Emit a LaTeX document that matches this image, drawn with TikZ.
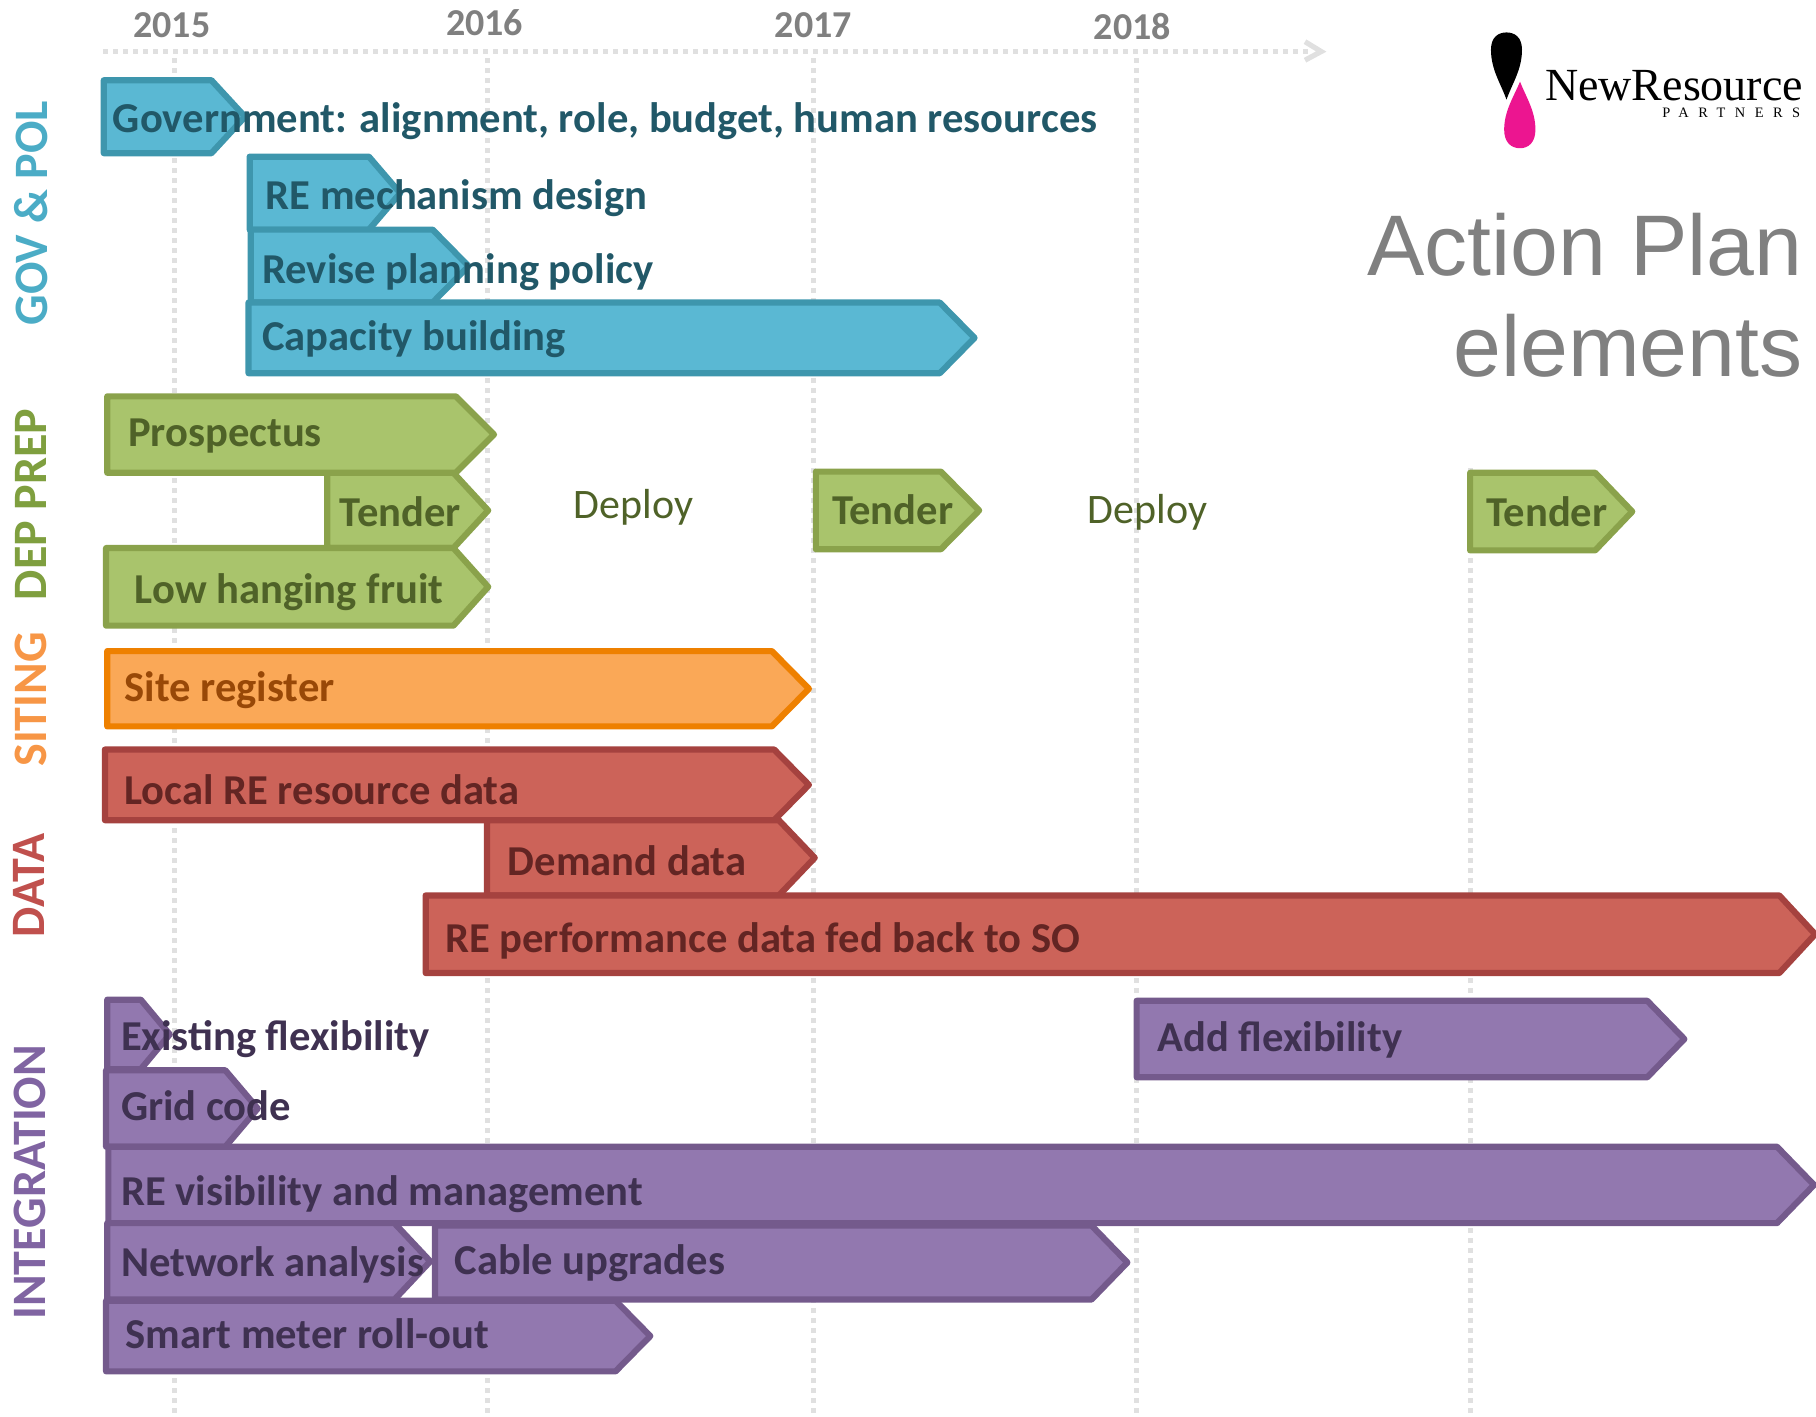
\documentclass[tikz,border=0pt]{standalone}
\usepackage{fontspec}
\setmainfont{Carlito}
\newfontfamily\titlefont{Liberation Sans}
\newfontfamily\logofont{Liberation Serif}
\newfontfamily\logospaced[LetterSpace=66]{Liberation Serif}
\definecolor{bluefill}{HTML}{5AB8D3}\definecolor{bluedraw}{HTML}{3E96AD}\definecolor{bluetext}{HTML}{215868}\definecolor{blueside}{HTML}{4BACC6}
\definecolor{greenfill}{HTML}{A9C46C}\definecolor{greendraw}{HTML}{8AA24B}\definecolor{greentext}{HTML}{4F6228}\definecolor{greenside}{HTML}{7F9F3F}
\definecolor{orangefill}{HTML}{FAA857}\definecolor{orangedraw}{HTML}{EE8000}\definecolor{orangetext}{HTML}{984807}\definecolor{orangeside}{HTML}{F79646}
\definecolor{redfill}{HTML}{CC6359}\definecolor{reddraw}{HTML}{A5423F}\definecolor{redtext}{HTML}{632523}\definecolor{redside}{HTML}{C0504D}
\definecolor{purplefill}{HTML}{9278AF}\definecolor{purpledraw}{HTML}{745A8C}\definecolor{purpletext}{HTML}{3F3151}\definecolor{purpleside}{HTML}{8064A2}
\definecolor{gridgrey}{HTML}{E0E0E0}\definecolor{headgrey}{HTML}{808080}\definecolor{logopink}{HTML}{EC1590}
\tikzset{
  bluebar/.style={fill=bluefill,draw=bluedraw},
  greenbar/.style={fill=greenfill,draw=greendraw},
  orangebar/.style={fill=orangefill,draw=orangedraw},
  redbar/.style={fill=redfill,draw=reddraw},
  purplebar/.style={fill=purplefill,draw=purpledraw},
  barlabel/.style={anchor=base west,inner sep=0pt,font=\fontsize{21.3}{24}\selectfont\bfseries},
  gridline/.style={gridgrey,line width=2.5pt,dash pattern=on 2.5pt off 2.5pt},
  year/.style={anchor=center,inner sep=0pt,text=headgrey,font=\fontsize{19}{22}\selectfont\bfseries},
  side/.style={anchor=center,inner sep=0pt,rotate=90,font=\fontsize{24}{28}\selectfont\bfseries},
  deploy/.style={anchor=center,inner sep=0pt,text=greentext,font=\fontsize{21}{24}\selectfont},
  headline/.style={anchor=base east,inner sep=0pt,text=headgrey,font=\titlefont\fontsize{43}{48}\selectfont},
}
% style, name, x0, ytop, xshoulder, xtip, ybottom, text position, text colour
\newcommand{\bararrow}[9]{%
  \path[#1,shift={(0.6,0.3)},line width=3.1pt,line join=round] (#3,#4) -- (#5,#4) -- (#6,{(#4+#7)/2}) -- (#5,#7) -- (#3,#7) -- cycle;
  \node[barlabel,text=#9,shift={(0.2,1.8)}] (#2) at (#8) {\barlabeltext};
}
\newcommand{\barlabeltext}{}
\newcommand{\plan}[2]{\renewcommand{\barlabeltext}{#2}#1}
\begin{document}
\begin{tikzpicture}[x=0.579pt,y=-0.579pt]
\useasboundingbox (0,0) rectangle (1568.3,1222.9);
% grid
\foreach \gx/\gy in {150.6/50,420.6/50,702.6/50,981.6/50,1269.6/404}{
  \draw[gridline] (\gx,\gy) -- (\gx,1223);
}
\draw[gridline] (89,44.5) -- (1132,44.5);
\draw[gridgrey,line width=2.6pt] (1127,36) -- (1141,44.5) -- (1127,52);
% years
\node[year] (y15) at (148.5,22) {2015};
\node[year] (y16) at (418.5,20) {2016};
\node[year] (y17) at (702.5,22) {2017};
\node[year] (y18) at (978,23) {2018};
% side
\node[side,text=blueside] (sgov) at (27,184) {GOV \& POL};
\node[side,text=greenside] (sdep) at (27,435.5) {DEP PREP};
\node[side,text=orangeside] (ssit) at (27,604) {SITING};
\node[side,text=redside] (sdat) at (25,764.5) {DATA};
\node[side,text=purpleside] (sint) at (25.5,1021) {INTEGRATION};
% bars
\plan{\bararrow{bluebar}{b1}{89}{69}{182}{211}{132}{97,113}{bluetext}}{Government: alignment, role, budget, human resources}
\plan{\bararrow{bluebar}{b2}{215}{135}{318}{345}{198}{229,179}{bluetext}}{RE mechanism design}
\plan{\bararrow{bluebar}{b3}{216}{198}{373}{404}{261}{226,243}{bluetext}}{Revise planning policy}
\plan{\bararrow{bluebar}{b4}{214}{261}{811}{841}{322}{226,301}{bluetext}}{Capacity building}
\plan{\bararrow{greenbar}{g2}{282}{408}{391}{421}{473}{293,453}{greentext}}{Tender}
\plan{\bararrow{greenbar}{g1}{92}{342}{393}{426}{408}{110,384}{greentext}}{Prospectus}
\plan{\bararrow{greenbar}{g3}{91}{473}{391}{421}{540}{116,519}{greentext}}{Low hanging fruit}
\plan{\bararrow{greenbar}{g4}{704}{407}{812}{845}{474}{718,451}{greentext}}{Tender}
\plan{\bararrow{greenbar}{g5}{1269}{408}{1377}{1409}{475}{1283,453}{greentext}}{Tender}
\node[deploy] (d1) at (547,438) {Deploy};
\node[deploy] (d2) at (991,442) {Deploy};
\plan{\bararrow{orangebar}{o1}{92}{562}{666}{698}{627}{107,604}{orangetext}}{Site register}
\plan{\bararrow{redbar}{r1}{90}{647}{668}{698}{708}{107,693}{redtext}}{Local RE resource data}
\plan{\bararrow{redbar}{r2}{420}{708}{672}{703}{773}{438,754}{redtext}}{Demand data}
\plan{\bararrow{redbar}{r3}{367}{773}{1536}{1567}{840}{384,821}{redtext}}{RE performance data fed back to SO}
\plan{\bararrow{purplebar}{p1}{92}{863}{121}{146}{923}{104,905}{purpletext}}{Existing flexibility}
\plan{\bararrow{purplebar}{p2}{91}{924}{194}{222}{990}{104,966}{purpletext}}{Grid code}
\plan{\bararrow{purplebar}{p3}{93}{990}{1534}{1566}{1056}{104,1039}{purpletext}}{RE visibility and management}
\plan{\bararrow{purplebar}{p5}{375}{1058}{942}{973}{1122}{392,1099}{purpletext}}{Cable upgrades}
\plan{\bararrow{purplebar}{p4}{92}{1056}{340}{371}{1122}{104,1101}{purpletext}}{Network analysis}
\plan{\bararrow{purplebar}{p6}{91}{1123}{531}{561}{1184}{108,1163}{purpletext}}{Smart meter roll-out}
\plan{\bararrow{purplebar}{p7}{981}{864}{1422}{1454}{930}{999,906}{purpletext}}{Add flexibility}
% title
\node[headline] (t1) at (1557,238) {Action Plan};
\node[headline] (t2) at (1557,325) {elements};
% logo
\fill[black] (1301,86) .. controls (1296,72) and (1287.6,60) .. (1287.6,43) .. controls (1287.6,32) and (1294,28) .. (1301,28) .. controls (1308,28) and (1314.4,32) .. (1314.4,43) .. controls (1314.4,60) and (1306,72) .. (1301,86) -- cycle;
\fill[logopink] (1312.7,70.5) .. controls (1318,84) and (1326,96) .. (1326,112) .. controls (1326,123) and (1320,128) .. (1312.7,128) .. controls (1305,128) and (1299,123) .. (1299,112) .. controls (1299,96) and (1307,84) .. (1312.7,70.5) -- cycle;
\node[anchor=base west,inner sep=0pt,font=\logofont\fontsize{23}{26}\selectfont] (nr) at (1334,86.5) {NewResource};
\node[anchor=base east,inner sep=0pt,font=\logospaced\fontsize{7.2}{8}\selectfont] (pa) at (1555,101.5) {PARTNERS};
\end{tikzpicture}
\end{document}
